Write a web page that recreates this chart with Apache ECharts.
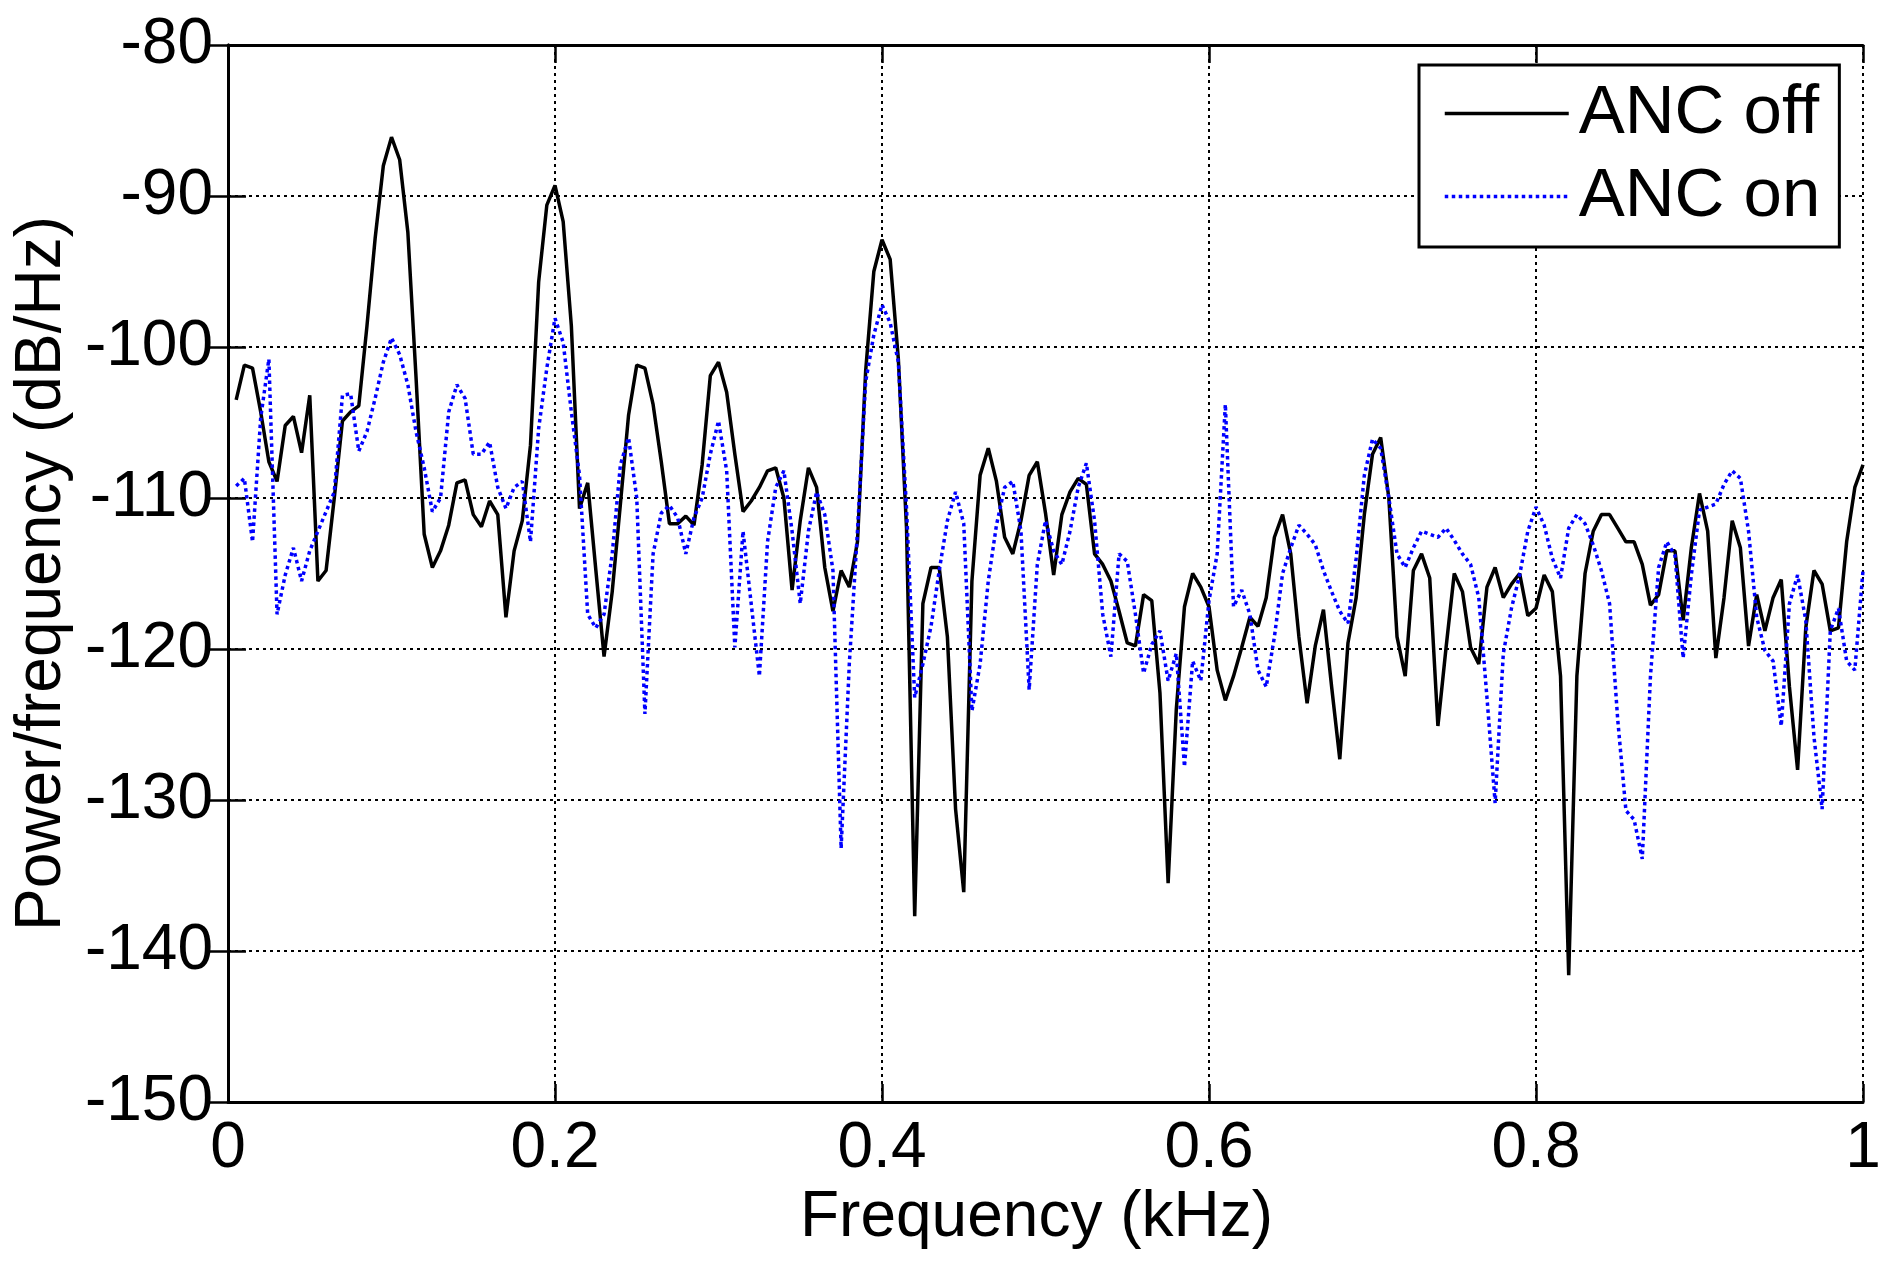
<!DOCTYPE html>
<html>
<head>
<meta charset="utf-8">
<script src="https://cdn.jsdelivr.net/npm/echarts@6/dist/echarts.min.js"></script>
<style>
html,body{margin:0;padding:0;background:#fff;}
#chart{width:1903px;height:1264px;}
</style>
</head>
<body>
<div id="chart"></div>
<script>
// Frequency bins (kHz): 5 Hz resolution, first bin at 5 Hz
const binStepKHz = 0.005;
const binCount = 200;
const freqKHz = [];
for (let k = 1; k <= binCount; k++) freqKHz.push(+(k * binStepKHz).toFixed(3));

const seriesNames = ['ANC off', 'ANC on'];

const ancOff = [
-103.5,-101.2,-101.4,-104.3,-107.6,-108.9,-105.2,-104.6,-107.0,-103.2,
-115.5,-114.8,-110.0,-104.9,-104.3,-103.9,-98.6,-92.8,-88.0,-86.1,
-87.6,-92.4,-102.0,-112.4,-114.6,-113.5,-111.8,-109.0,-108.8,-111.1,
-111.9,-110.2,-111.1,-117.9,-113.5,-111.5,-106.5,-95.7,-90.6,-89.3,
-91.7,-98.6,-110.7,-109.0,-114.8,-120.5,-116.2,-110.4,-104.5,-101.2,
-101.4,-103.8,-107.6,-111.7,-111.7,-111.2,-111.8,-107.8,-101.9,-101.0,
-103.0,-107.1,-110.9,-110.2,-109.3,-108.2,-108.0,-110.0,-116.1,-111.5,
-108.0,-109.3,-114.6,-117.5,-114.8,-115.9,-112.9,-101.6,-95.0,-92.9,
-94.2,-100.8,-112.0,-137.7,-117.0,-114.6,-114.6,-119.2,-130.6,-136.1,
-115.5,-108.5,-106.7,-108.9,-112.6,-113.7,-111.5,-108.5,-107.6,-111.0,
-115.1,-111.1,-109.6,-108.7,-109.1,-113.7,-114.4,-115.5,-117.5,-119.6,
-119.8,-116.4,-116.8,-122.9,-135.5,-124.0,-117.2,-115.0,-115.9,-117.2,
-121.4,-123.4,-121.8,-119.9,-117.9,-118.5,-116.6,-112.6,-111.1,-113.7,
-119.2,-123.6,-119.8,-117.4,-122.5,-127.3,-119.6,-116.6,-111.1,-107.1,
-106.0,-110.0,-119.2,-121.8,-114.8,-113.7,-115.3,-125.1,-119.9,-115.0,
-116.2,-119.9,-121.0,-115.9,-114.6,-116.6,-115.7,-115.0,-117.8,-117.3,
-115.1,-116.2,-121.8,-141.6,-121.8,-115.0,-112.2,-111.1,-111.1,-112.0,
-112.9,-112.9,-114.4,-117.1,-116.4,-113.5,-113.5,-118.1,-113.3,-109.7,
-112.2,-120.6,-116.6,-111.5,-113.3,-119.8,-116.4,-118.8,-116.6,-115.4,
-122.5,-128.0,-118.6,-114.8,-115.7,-118.8,-118.6,-112.9,-109.3,-107.8
];

const ancOn = [
-109.2,-108.7,-112.9,-104.7,-100.8,-117.7,-115.1,-113.3,-115.5,-113.5,
-112.2,-110.9,-109.6,-103.2,-103.1,-106.9,-105.6,-103.4,-101.0,-99.4,
-100.5,-102.5,-105.6,-108.0,-110.9,-110.0,-104.3,-102.5,-103.4,-107.1,
-107.1,-106.3,-109.3,-110.7,-109.3,-108.9,-112.9,-105.4,-101.4,-98.1,
-99.7,-104.3,-108.5,-117.7,-118.6,-117.7,-113.7,-107.8,-106.0,-110.0,
-124.3,-113.7,-111.0,-110.5,-111.3,-113.7,-111.3,-110.0,-107.1,-104.9,
-108.2,-119.9,-112.2,-117.0,-121.8,-112.9,-109.3,-108.2,-112.2,-117.0,
-112.2,-109.6,-111.1,-114.8,-133.2,-121.0,-112.2,-102.3,-99.2,-97.2,
-98.4,-101.0,-110.7,-123.2,-121.0,-118.5,-114.8,-111.5,-109.6,-111.7,
-124.1,-121.0,-115.5,-111.8,-109.3,-108.9,-112.2,-122.7,-114.4,-111.5,
-113.5,-114.4,-112.2,-109.3,-107.7,-111.5,-117.7,-120.5,-113.7,-114.2,
-117.7,-121.6,-119.7,-118.8,-122.1,-120.3,-127.8,-120.8,-122.1,-116.8,
-113.7,-103.8,-117.2,-116.1,-117.7,-121.4,-122.5,-119.2,-115.0,-113.3,
-111.8,-112.4,-113.1,-114.8,-116.2,-117.5,-118.3,-114.0,-108.5,-106.1,
-106.7,-110.0,-113.7,-114.6,-113.3,-112.2,-112.4,-112.6,-112.0,-112.8,
-113.7,-114.4,-116.6,-123.2,-130.2,-120.3,-117.3,-115.1,-112.2,-110.6,
-111.8,-114.0,-115.3,-112.0,-111.1,-111.7,-113.1,-114.8,-117.0,-124.7,
-130.7,-131.3,-133.9,-121.8,-114.6,-112.9,-113.8,-120.6,-115.1,-110.8,
-110.6,-110.4,-109.1,-108.2,-108.7,-112.2,-117.9,-120.1,-120.8,-125.1,
-117.0,-115.1,-118.1,-125.8,-130.6,-118.8,-117.3,-120.8,-121.4,-114.8
];

const xTickLabels = ['0', '0.2', '0.4', '0.6', '0.8', '1'];
const yTickLabels = ['-150', '-140', '-130', '-120', '-110', '-100', '-90', '-80'];

const FONT = '"Liberation Sans", Arial, Helvetica, sans-serif';
const chart = echarts.init(document.getElementById('chart'), null, {renderer: 'canvas'});

const pairs = (ys) => freqKHz.map((f, i) => [f, ys[i]]);

const gridLine = {show: true, lineStyle: {color: '#000', width: 2, type: [3, 4]}};
const axisLineStyle = {show: true, lineStyle: {color: '#000', width: 3}};
const tickStyle = {show: true, inside: true, length: 18, lineStyle: {color: '#000', width: 2.5}};

chart.setOption({
  animation: false,
  backgroundColor: '#fff',
  grid: {left: 228, top: 45, width: 1635, height: 1057, containLabel: false},
  legend: {
    orient: 'vertical',
    left: 1419,
    top: 65,
    data: seriesNames,
    itemWidth: 124,
    itemHeight: 20,
    itemGap: 14,
    padding: [14, 19, 16, 24],
    borderColor: '#000',
    borderWidth: 3,
    backgroundColor: '#fff',
    itemStyle: {opacity: 0},
    lineStyle: {width: 3.5},
    textStyle: {fontFamily: FONT, fontSize: 69, lineHeight: 69, color: '#000', padding: [0, 0, 0, 5]}
  },
  xAxis: [
    {
      type: 'value', min: 0, max: 1, interval: 0.2, position: 'bottom',
      name: 'Frequency (kHz)', nameLocation: 'middle', nameGap: 57,
      nameTextStyle: {fontFamily: FONT, fontSize: 64, color: '#000', padding: [0, 18, 0, 0]},
      axisLine: axisLineStyle, axisTick: tickStyle,
      axisLabel: {fontFamily: FONT, fontSize: 64, color: '#000', margin: 15,
        formatter: (v) => xTickLabels[Math.round(v / 0.2)]},
      splitLine: gridLine
    },
    {
      type: 'value', min: 0, max: 1, interval: 0.2, position: 'top',
      axisLine: axisLineStyle, axisTick: tickStyle,
      axisLabel: {show: false}, splitLine: {show: false}
    }
  ],
  yAxis: [
    {
      type: 'value', min: -150, max: -80, interval: 10, position: 'left',
      name: 'Power/frequency (dB/Hz)', nameLocation: 'middle', nameGap: 138,
      nameTextStyle: {fontFamily: FONT, fontSize: 64, color: '#000'},
      axisLine: axisLineStyle, axisTick: tickStyle,
      axisLabel: {fontFamily: FONT, fontSize: 64, color: '#000', margin: 15,
        formatter: (v) => yTickLabels[Math.round((v + 150) / 10)]},
      splitLine: gridLine
    },
    {
      type: 'value', min: -150, max: -80, interval: 10, position: 'right',
      axisLine: axisLineStyle, axisTick: tickStyle,
      axisLabel: {show: false}, splitLine: {show: false}
    }
  ],
  series: [
    {
      name: seriesNames[0], type: 'line', xAxisIndex: 0, yAxisIndex: 0,
      data: pairs(ancOff), symbol: 'none', showSymbol: false,
      lineStyle: {color: '#000', width: 3.5},
      itemStyle: {color: '#000'}
    },
    {
      name: seriesNames[1], type: 'line', xAxisIndex: 0, yAxisIndex: 0,
      data: pairs(ancOn), symbol: 'none', showSymbol: false,
      lineStyle: {color: '#0000ff', width: 3.5, type: [3.5, 3.5]},
      itemStyle: {color: '#0000ff'}
    }
  ]
});
</script>
</body>
</html>
